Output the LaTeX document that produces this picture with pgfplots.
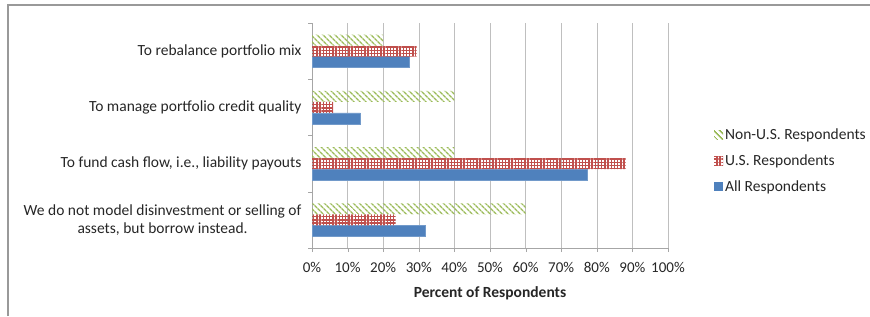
\documentclass[border=0pt]{standalone}
\usepackage{fontspec}
\setmainfont{Carlito}
\usepackage{pgfplots}
\pgfplotsset{compat=1.18}
\usetikzlibrary{patterns.meta}
\definecolor{cblue}{HTML}{4F81BD}
\definecolor{cred}{HTML}{C0504D}
\definecolor{cgreen}{HTML}{9BBB59}
\definecolor{txt}{HTML}{262626}
\begin{document}
\begin{tikzpicture}[font=\fontsize{15.5}{19}\selectfont, x=1pt, y=1pt]
\useasboundingbox (0,0) rectangle (870,316);
\draw[gray!80, line width=1.2pt] (8,0) -- (8,311) -- (870,311);
\begin{axis}[
  at={(312pt,68pt)}, anchor=south west,
  scale only axis, width=356pt, height=225pt,
  xbar=0pt, bar width=11pt,
  xmin=0, xmax=100,
  ymin=-0.5, ymax=3.5,
  axis x line*=bottom, axis y line*=left,
  axis line style={gray!70, line width=0.6pt},
  xtick={0,10,...,100},
  xticklabels={0\%,10\%,20\%,30\%,40\%,50\%,60\%,70\%,80\%,90\%,100\%},
  ytick={0,1,2,3},
  yticklabels={{We do not model disinvestment or selling of\\assets, but borrow instead.},
    {To fund cash flow, i.e., liability payouts},
    {To manage portfolio credit quality},
    {To rebalance portfolio mix}},
  yticklabel style={align=center, text=txt, font=\fontsize{15.5}{18.5}\selectfont, xshift=-3pt},
  xticklabel style={text=txt, font=\fontsize{15}{18}\selectfont, yshift=-7pt},
  minor ytick={-0.5,0.5,1.5,2.5,3.5},
  major tick length=4pt, minor tick length=4pt,
  tick align=outside,
  major y tick style={draw=none},
  minor y tick style={draw=gray!70},
  xtick style={draw=gray!70},
  xmajorgrids, grid style={gray!50, line width=0.6pt},
  xlabel={\textbf{Percent of Respondents}},
  xlabel style={text=txt, font=\fontsize{15.5}{19}\selectfont, yshift=-7pt},
  legend style={at={(1.129,0.387)}, anchor=west, draw=none, fill=none, inner sep=0pt,
    font=\fontsize{15.5}{19}\selectfont, text=txt, row sep=9.5pt,
    cells={anchor=west}},
  reverse legend,
  legend image code/.code={\draw[#1, draw=none] (0pt,-4.5pt) rectangle (9pt,4.5pt);},
]
\addplot[fill=cblue, draw=cblue!80!white] coordinates {(31.8,0) (77.3,1) (13.6,2) (27.3,3)};
\addplot[draw=none, fill=white, pattern={Hatch[angle=0, distance=3.2pt, line width=1.4pt]}, pattern color=cred] coordinates {(23.5,0) (88.2,1) (5.9,2) (29.4,3)};
\addplot[draw=none, fill=white, pattern={Lines[angle=-45, distance=4pt, line width=1.6pt]}, pattern color=cgreen] coordinates {(60,0) (40,1) (40,2) (20,3)};
\legend{All Respondents, U.S. Respondents, Non-U.S. Respondents}
\end{axis}
\end{tikzpicture}
\end{document}
